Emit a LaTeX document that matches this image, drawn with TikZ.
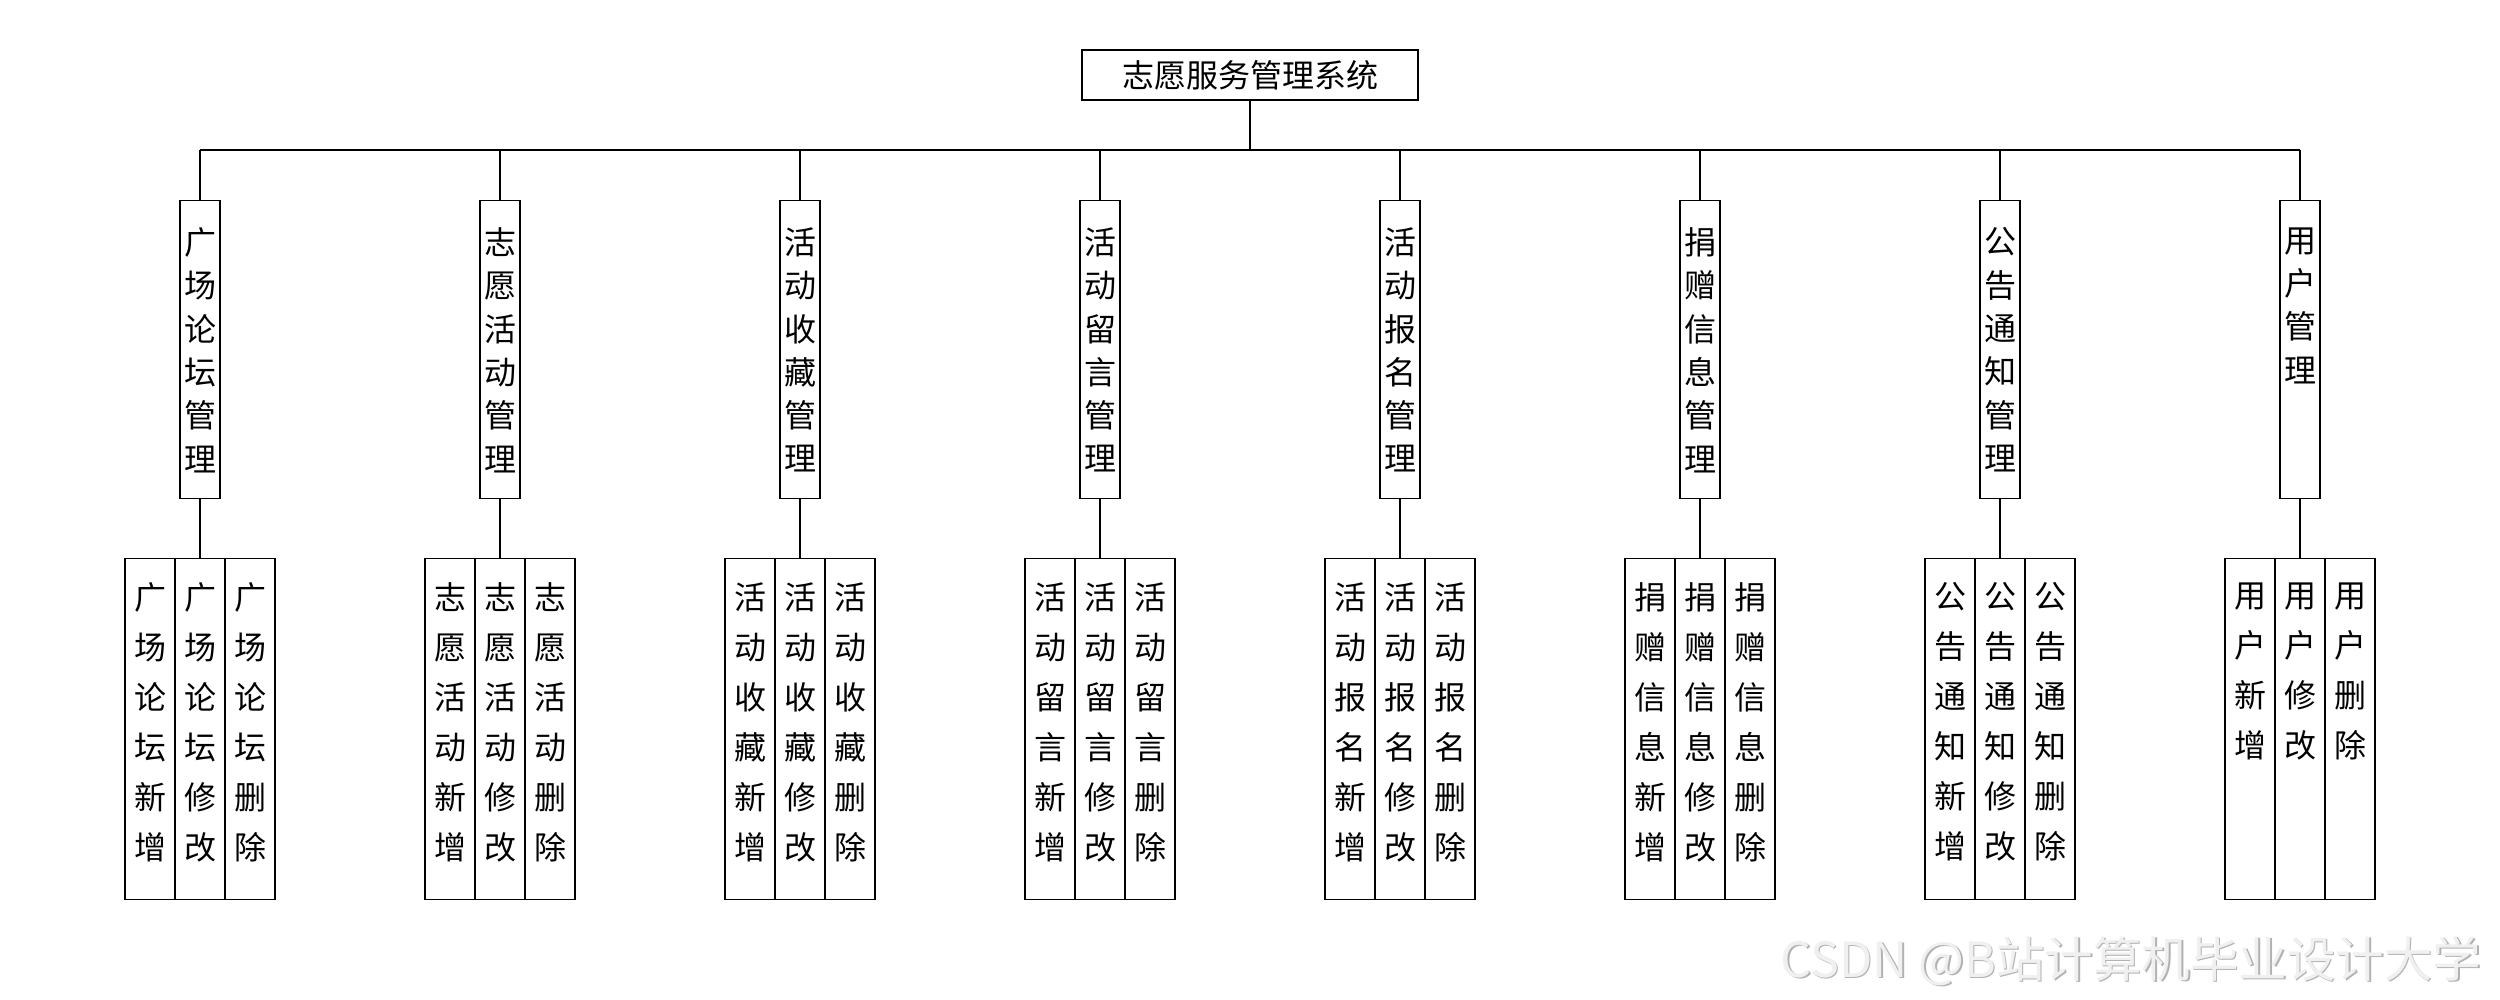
\documentclass[tikz,border=0pt]{standalone}
\usepackage{fontspec}
\newfontfamily\cjk{Noto Sans CJK SC}
\begin{document}
\begin{tikzpicture}[x=1pt,y=-1pt,line width=1.3pt,
  rootbox/.style={draw, minimum width=336pt, minimum height=50pt, inner sep=0pt, font=\cjk\fontsize{32}{40}\selectfont},
  midbox/.style={draw, minimum width=40pt, minimum height=298pt, anchor=north, inner sep=0pt},
  midtext/.style={anchor=north, inner sep=0pt, align=center, font=\cjk\fontsize{32}{43.3}\selectfont},
  leafbox/.style={draw, minimum width=50pt, minimum height=341pt, anchor=north, inner sep=0pt},
  leaftext/.style={anchor=north, inner sep=0pt, align=center, font=\cjk\fontsize{32}{50}\selectfont},
  wm/.style={anchor=base west, inner sep=0pt, font=\cjk\fontsize{48.5}{52}\selectfont}]
\useasboundingbox (0,0) rectangle (2500,1000);
\node[rootbox] (root) at (1250,75) {志愿服务管理系统};
\coordinate (bus) at (1250,150);
\foreach \i/\p in {1/{广\\场\\论\\坛},2/{志\\愿\\活\\动},3/{活\\动\\收\\藏},4/{活\\动\\留\\言},5/{活\\动\\报\\名},6/{捐\\赠\\信\\息},7/{公\\告\\通\\知},8/{用\\户}}{
  \pgfmathsetmacro\xx{200+300*(\i-1)}
  \node[midbox] (m\i) at (\xx,200) {};
  \node[midtext] (mt\i) at (\xx,227) {\p\\管\\理};
  \node[leafbox] (la\i) at (\xx-50,558) {};
  \node[leafbox] (lb\i) at (\xx,558) {};
  \node[leafbox] (lc\i) at (\xx+50,558) {};
  \node[leaftext] (ta\i) at (\xx-50,582) {\p\\新\\增};
  \node[leaftext] (tb\i) at (\xx,582) {\p\\修\\改};
  \node[leaftext] (tc\i) at (\xx+50,582) {\p\\删\\除};
  \draw (m\i.north) -- (m\i.north |- bus);
  \draw (m\i.south) -- (lb\i.north);
}
\draw (root.south) -- (bus);
\draw (m1.north |- bus) -- (m8.north |- bus);
\node[wm, text=gray!60] (wmshadow) at (1781.5,978.5) {CSDN @B站计算机毕业设计大学};
\node[wm, text=gray!12] (wmark) at (1780,977) {CSDN @B站计算机毕业设计大学};
\end{tikzpicture}
\end{document}
